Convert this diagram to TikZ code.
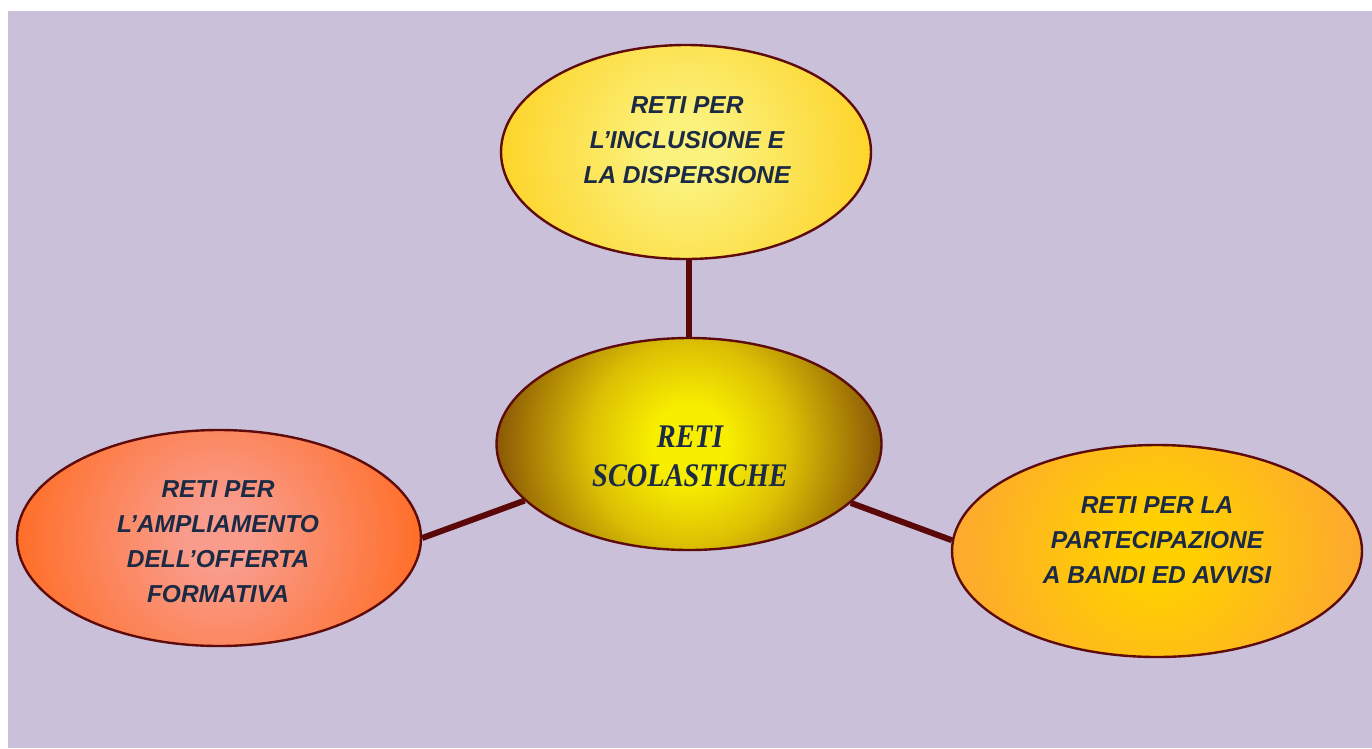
\documentclass[tikz,border=0pt]{standalone}
\usepackage{fontspec}
\usetikzlibrary{shapes.geometric}
\newfontfamily\boxfont{Liberation Sans}
\newfontfamily\ctrfont[FakeStretch=0.86]{Liberation Serif}
\definecolor{bgcol}{HTML}{CAC0DA}
\definecolor{edgecol}{HTML}{5E0B0B}
\definecolor{linkcol}{HTML}{5A0808}
\definecolor{txtcol}{HTML}{1B2A45}
\definecolor{topin}{HTML}{FBF27E}
\definecolor{topout}{HTML}{FDD42A}
\definecolor{ctrin}{HTML}{F8EE00}
\definecolor{ctrmid}{HTML}{DCC004}
\definecolor{ctrout}{HTML}{8A5806}
\definecolor{lfin}{HTML}{F99C8C}
\definecolor{lfout}{HTML}{FF6E28}
\definecolor{rtin}{HTML}{FFD000}
\definecolor{rtout}{HTML}{FDA830}
\pgfdeclareradialshading{topshade}{\pgfpoint{0bp}{0bp}}{color(0bp)=(topin); color(4bp)=(topin); color(25bp)=(topout); color(50bp)=(topout)}
\pgfdeclareradialshading{ctrshade}{\pgfpoint{0bp}{0bp}}{color(0bp)=(ctrin); color(5bp)=(ctrin); color(13bp)=(ctrmid); color(25bp)=(ctrout); color(50bp)=(ctrout)}
\pgfdeclareradialshading{lfshade}{\pgfpoint{0bp}{0bp}}{color(0bp)=(lfin); color(4bp)=(lfin); color(25bp)=(lfout); color(50bp)=(lfout)}
\pgfdeclareradialshading{rtshade}{\pgfpoint{0bp}{0bp}}{color(0bp)=(rtin); color(4bp)=(rtin); color(25bp)=(rtout); color(50bp)=(rtout)}
\pgfdeclarelayer{bglayer}
\pgfdeclarelayer{back}
\pgfsetlayers{bglayer,back,main}
\tikzset{
  bubble/.style={ellipse, draw=edgecol, line width=2.4pt, inner sep=0pt},
  bubblefill/.style 2 args={path picture={\shade[shading=#1] (path picture bounding box.center) circle[radius=#2];}},
  boxtext/.style={align=center, text=txtcol, inner sep=0pt, font=\boxfont\bfseries\itshape\fontsize{24.5}{35}\selectfont},
  ctrtext/.style={align=center, text=txtcol, inner sep=0pt, font=\ctrfont\bfseries\itshape\fontsize{33}{39}\selectfont},
  link/.style={draw=linkcol, line width=6pt}
}
\begin{document}
\begin{tikzpicture}[x=1pt,y=-1pt]
\useasboundingbox (0,0) rectangle (1372,748);
\begin{pgfonlayer}{bglayer}
\fill[white] (0,0) rectangle (1372,748);
\fill[bgcol] (8,11) rectangle (1372,748);
\end{pgfonlayer}
\node[bubble, bubblefill={topshade}{186pt}, minimum width=370pt, minimum height=214pt] (top) at (686,152) {};
\node[bubble, bubblefill={ctrshade}{193pt}, minimum width=385pt, minimum height=212pt] (ctr) at (689,444) {};
\node[bubble, bubblefill={lfshade}{203pt}, minimum width=404pt, minimum height=216pt] (lf) at (219,538) {};
\node[bubble, bubblefill={rtshade}{206pt}, minimum width=410pt, minimum height=212pt] (rt) at (1157,551) {};
\node[boxtext] (toptxt) at (687,140) {RETI PER\\L’INCLUSIONE E\\LA DISPERSIONE};
\node[ctrtext] (ctrtxt) at (690,456) {RETI\\SCOLASTICHE};
\node[boxtext] (lftxt) at (218,542) {RETI PER\\L’AMPLIAMENTO\\DELL’OFFERTA\\FORMATIVA};
\node[boxtext] (rttxt) at (1157,540) {RETI PER LA\\PARTECIPAZIONE\\A BANDI ED AVVISI};
\begin{pgfonlayer}{back}
\draw[link] (top.south -| ctr.north) -- (ctr.north);
\draw[link] (lf.east) -- (ctr.199.5);
\draw[link] (ctr.340) -- (rt.177);
\end{pgfonlayer}
\end{tikzpicture}
\end{document}
